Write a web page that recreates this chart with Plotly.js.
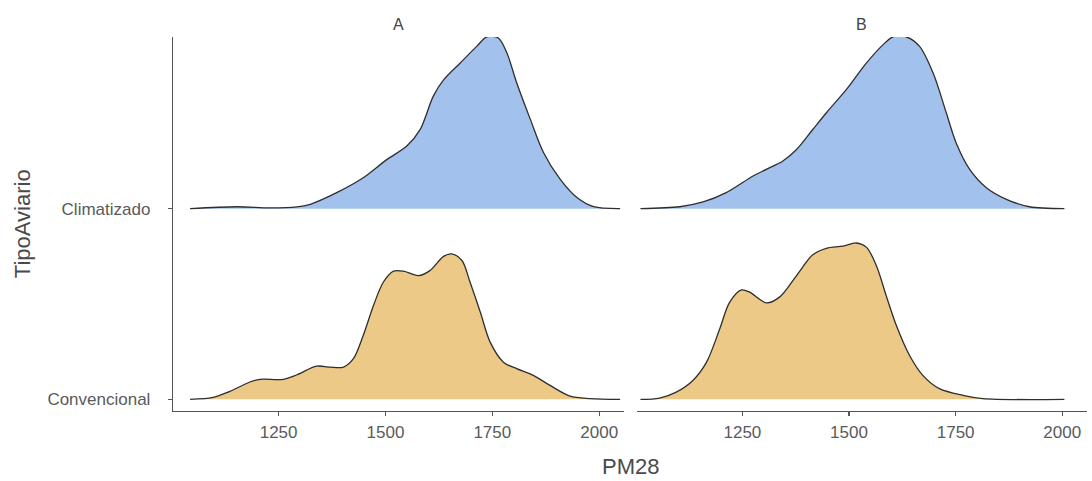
<!DOCTYPE html>
<html>
<head>
<meta charset="utf-8">
<script src="https://cdn.plot.ly/plotly-3.0.1.min.js"></script>
<style>html,body{margin:0;padding:0;background:#fff;}#chart{width:1092px;height:481px;}</style>
</head>
<body>
<div id="chart"></div>
<script>
// Categories (y) and facets
const categories = ['Convencional', 'Climatizado'];
const panels = ['A', 'B'];
const xTicks = [1250, 1500, 1750, 2000];

// Density ridges (PM28 value, scaled density height)
const A_Climatizado_x = [1043, 1152, 1230, 1293, 1324, 1386, 1448, 1503, 1550, 1581, 1612, 1636, 1675, 1714, 1737, 1764, 1784, 1807, 1839, 1870, 1909, 1948, 1987, 2049];
const A_Climatizado_h = [0, 0.010, 0.004, 0.009, 0.023, 0.084, 0.162, 0.257, 0.328, 0.414, 0.590, 0.675, 0.764, 0.852, 0.901, 0.895, 0.817, 0.660, 0.468, 0.293, 0.153, 0.058, 0.010, 0];

const B_Climatizado_x = [1011, 1103, 1158, 1212, 1275, 1306, 1345, 1377, 1415, 1447, 1494, 1541, 1580, 1603, 1634, 1665, 1697, 1728, 1751, 1783, 1822, 1869, 1923, 2005];
const B_Climatizado_h = [0, 0.010, 0.035, 0.084, 0.171, 0.206, 0.250, 0.310, 0.415, 0.503, 0.625, 0.764, 0.860, 0.901, 0.901, 0.852, 0.712, 0.503, 0.346, 0.206, 0.110, 0.049, 0.010, 0];

const A_Convencional_x = [1043, 1097, 1136, 1183, 1207, 1261, 1293, 1339, 1370, 1402, 1425, 1448, 1472, 1495, 1519, 1542, 1577, 1604, 1636, 1655, 1679, 1698, 1722, 1745, 1776, 1807, 1846, 1885, 1932, 1979, 2049];
const A_Convencional_h = [0, 0.010, 0.042, 0.091, 0.105, 0.105, 0.129, 0.174, 0.169, 0.169, 0.213, 0.335, 0.492, 0.614, 0.672, 0.672, 0.649, 0.675, 0.750, 0.763, 0.728, 0.614, 0.457, 0.300, 0.195, 0.161, 0.126, 0.073, 0.017, 0.004, 0];

const B_Convencional_x = [1011, 1056, 1095, 1134, 1166, 1197, 1220, 1248, 1267, 1306, 1337, 1377, 1415, 1447, 1486, 1517, 1541, 1564, 1587, 1611, 1642, 1673, 1712, 1767, 1814, 2005];
const B_Convencional_h = [0, 0.007, 0.038, 0.099, 0.195, 0.370, 0.509, 0.574, 0.562, 0.506, 0.536, 0.649, 0.758, 0.792, 0.803, 0.820, 0.797, 0.702, 0.545, 0.387, 0.230, 0.126, 0.056, 0.021, 0.004, 0];

const series = [
  {panel: 'A', cat: 'Convencional', x: A_Convencional_x, h: A_Convencional_h, color: '#EDC987'},
  {panel: 'B', cat: 'Convencional', x: B_Convencional_x, h: B_Convencional_h, color: '#EDC987'},
  {panel: 'A', cat: 'Climatizado', x: A_Climatizado_x, h: A_Climatizado_h, color: '#A3C1ED'},
  {panel: 'B', cat: 'Climatizado', x: B_Climatizado_x, h: B_Climatizado_h, color: '#A3C1ED'}
];

const traces = [];
series.forEach(s => {
  const base = categories.indexOf(s.cat) + 1;
  const xa = s.panel === 'A' ? 'x' : 'x2';
  traces.push({
    x: [s.x[0], s.x[s.x.length - 1]], y: [base, base],
    xaxis: xa, yaxis: 'y', mode: 'lines', line: {width: 0, color: 'rgba(0,0,0,0)'},
    hoverinfo: 'skip', showlegend: false
  });
  traces.push({
    x: s.x, y: s.h.map(v => base + v),
    xaxis: xa, yaxis: 'y', mode: 'lines', fill: 'tonexty', fillcolor: s.color,
    line: {color: '#2e2e2e', width: 1.3, shape: 'spline', smoothing: 0.9},
    name: s.cat + ' ' + s.panel, showlegend: false
  });
});

const FAM = 'Liberation Sans, Arial, sans-serif';
const axisFont = {family: FAM, size: 17, color: '#5a5a5a'};
const xBase = {
  range: [1003, 2058], tickvals: xTicks, ticktext: xTicks.map(String),
  showline: true, linecolor: '#555', linewidth: 1.2, ticks: 'outside', ticklen: 4,
  tickcolor: '#555', tickwidth: 1.2, showgrid: false, zeroline: false,
  tickfont: axisFont, anchor: 'y', ticklabelstandoff: 1
};

const layout = {
  width: 1092, height: 481,
  margin: {l: 173, r: 5, t: 37, b: 70},
  paper_bgcolor: '#fff', plot_bgcolor: '#fff',
  font: {family: FAM},
  showlegend: false,
  xaxis: Object.assign({}, xBase, {domain: [0, 0.4934]}),
  xaxis2: Object.assign({}, xBase, {domain: [0.5077, 1]}),
  yaxis: {
    range: [0.939, 2.90], tickvals: [1, 2], ticktext: categories,
    showline: true, linecolor: '#555', linewidth: 1.2, ticks: 'outside', ticklen: 4,
    tickcolor: '#555', tickwidth: 1.2, showgrid: false, zeroline: false, tickfont: axisFont,
    ticklabelstandoff: 14
  },
  annotations: [
    {text: panels[0], xref: 'paper', yref: 'paper', x: 0.2467, y: 1.0, xanchor: 'center', yanchor: 'bottom', yshift: 2, showarrow: false,
     font: {family: FAM, size: 16, color: '#444'}},
    {text: panels[1], xref: 'paper', yref: 'paper', x: 0.7538, y: 1.0, xanchor: 'center', yanchor: 'bottom', yshift: 2, showarrow: false,
     font: {family: FAM, size: 16, color: '#444'}},
    {text: 'PM28', xref: 'paper', yref: 'paper', x: 0.5, y: -0.1497, xanchor: 'center', yanchor: 'middle', showarrow: false,
     font: {family: FAM, size: 22, color: '#4a4a4a'}},
    {text: 'TipoAviario', xref: 'paper', yref: 'paper', x: -0.165, y: 0.5, xanchor: 'center', yanchor: 'middle', textangle: -90, showarrow: false,
     font: {family: FAM, size: 22, color: '#4a4a4a'}}
  ]
};

Plotly.newPlot('chart', traces, layout, {displayModeBar: false, staticPlot: true});
</script>
</body>
</html>
